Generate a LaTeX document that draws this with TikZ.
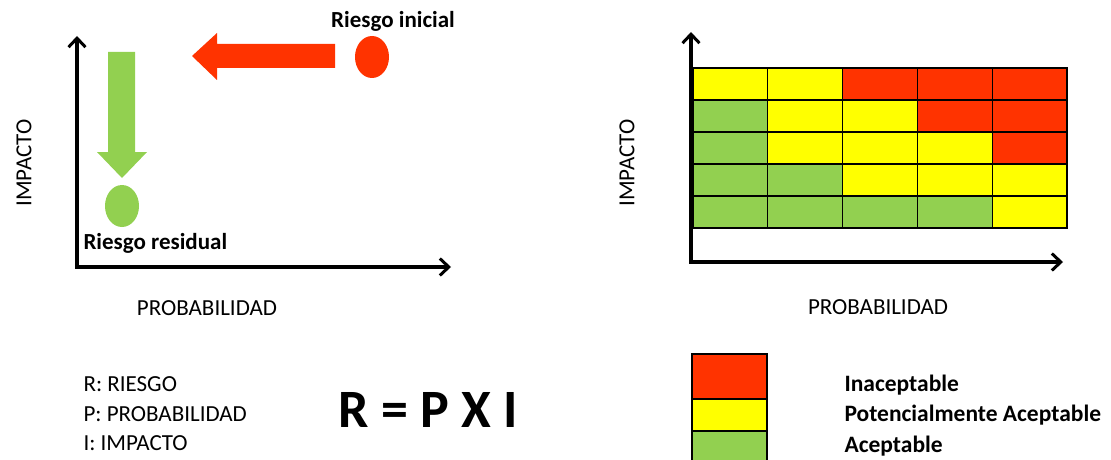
\documentclass[tikz,border=0pt]{standalone}
\usepackage{fontspec}
\setmainfont{Carlito}
\usetikzlibrary{arrows.meta,shapes.geometric}
\definecolor{riskred}{HTML}{FF3300}
\definecolor{riskyellow}{HTML}{FFFF00}
\definecolor{riskgreen}{HTML}{92D050}
\tikzset{
  axis/.style={line width=3.2pt,-{Straight Barb[length=9pt,width=17pt,line width=3pt]}},
  axislabel/.style={font=\fontsize{23}{27}\selectfont},
  tag/.style={font=\bfseries\fontsize{23}{27}\selectfont},
  cell/.style={draw=black,line width=1.3pt},
  legendtext/.style={font=\bfseries\fontsize{23.5}{27}\selectfont,anchor=west},
  keytext/.style={font=\fontsize{23}{27}\selectfont,anchor=west},
  blob/.style={ellipse,inner sep=0pt,minimum width=34pt,minimum height=42pt},
}
\begin{document}
\begin{tikzpicture}[x=1pt,y=-1pt]
\useasboundingbox (0,0) rectangle (1111,460);

% ---- left panel: reduction of risk ----
\coordinate (o1) at (77,267);
\coordinate (y1) at (77,36);
\coordinate (x1) at (451,267);
\draw[axis] (o1) -- (y1);
\draw[axis] ([xshift=-1.6pt]o1) -- (x1);
\node[axislabel,rotate=90] (imp1) at (24,163) {IMPACTO};
\node[axislabel] (prob1) at (207,308) {PROBABILIDAD};

% initial risk and the arrow moving it left
\node[blob,fill=riskred] (ini) at (372,57) {};
\node[tag] (inilab) at (393,21) {Riesgo inicial};
\fill[riskred] (335,44) -- (217,44) -- (217,33) -- (192,56) -- (217,80) -- (217,68) -- (335,68) -- cycle;

% residual risk and the arrow moving it down
\fill[riskgreen] (108,52) -- (135,52) -- (135,152) -- (147,152) -- (122,178) -- (97,152) -- (108,152) -- cycle;
\node[blob,fill=riskgreen] (res) at (122,206) {};
\node[tag,anchor=west] (reslab) at (80,243) {Riesgo residual};

% ---- right panel: risk matrix ----
\coordinate (o2) at (691,262);
\coordinate (y2) at (691,32);
\coordinate (x2) at (1063,262);
\draw[axis] (o2) -- (y2);
\draw[axis] ([xshift=-1.6pt]o2) -- (x2);
\node[axislabel,rotate=90] (imp2) at (627,163) {IMPACTO};
\node[axislabel] (prob2) at (878,307) {PROBABILIDAD};

\foreach \row/\colours in {0/{riskyellow,riskyellow,riskred,riskred,riskred},
                           1/{riskgreen,riskyellow,riskyellow,riskred,riskred},
                           2/{riskgreen,riskyellow,riskyellow,riskyellow,riskred},
                           3/{riskgreen,riskgreen,riskyellow,riskyellow,riskyellow},
                           4/{riskgreen,riskgreen,riskgreen,riskgreen,riskyellow}}{
  \foreach \c [count=\col from 0] in \colours {
    \filldraw[cell,fill=\c] ({693+74.8*\col},{68+32*\row}) rectangle ++(74.8,32);
  }
}

% ---- bottom left: definitions and formula ----
\node[keytext] (kr) at (80,384) {R: RIESGO};
\node[keytext] (kp) at (80,414) {P: PROBABILIDAD};
\node[keytext] (ki) at (80,443) {I: IMPACTO};
\node[font=\bfseries\fontsize{54}{60}\selectfont] (formula) at (428,410) {R = P X I};

% ---- bottom right: legend ----
\filldraw[cell,fill=riskred] (692,354) rectangle (767,399);
\filldraw[cell,fill=riskyellow] (692,399) rectangle (767,431);
\filldraw[cell,fill=riskgreen] (692,431) rectangle (767,462);
\node[legendtext] (l1) at (841,385) {Inaceptable};
\node[legendtext] (l2) at (841,415) {Potencialmente Aceptable};
\node[legendtext] (l3) at (841,446) {Aceptable};
\end{tikzpicture}
\end{document}
